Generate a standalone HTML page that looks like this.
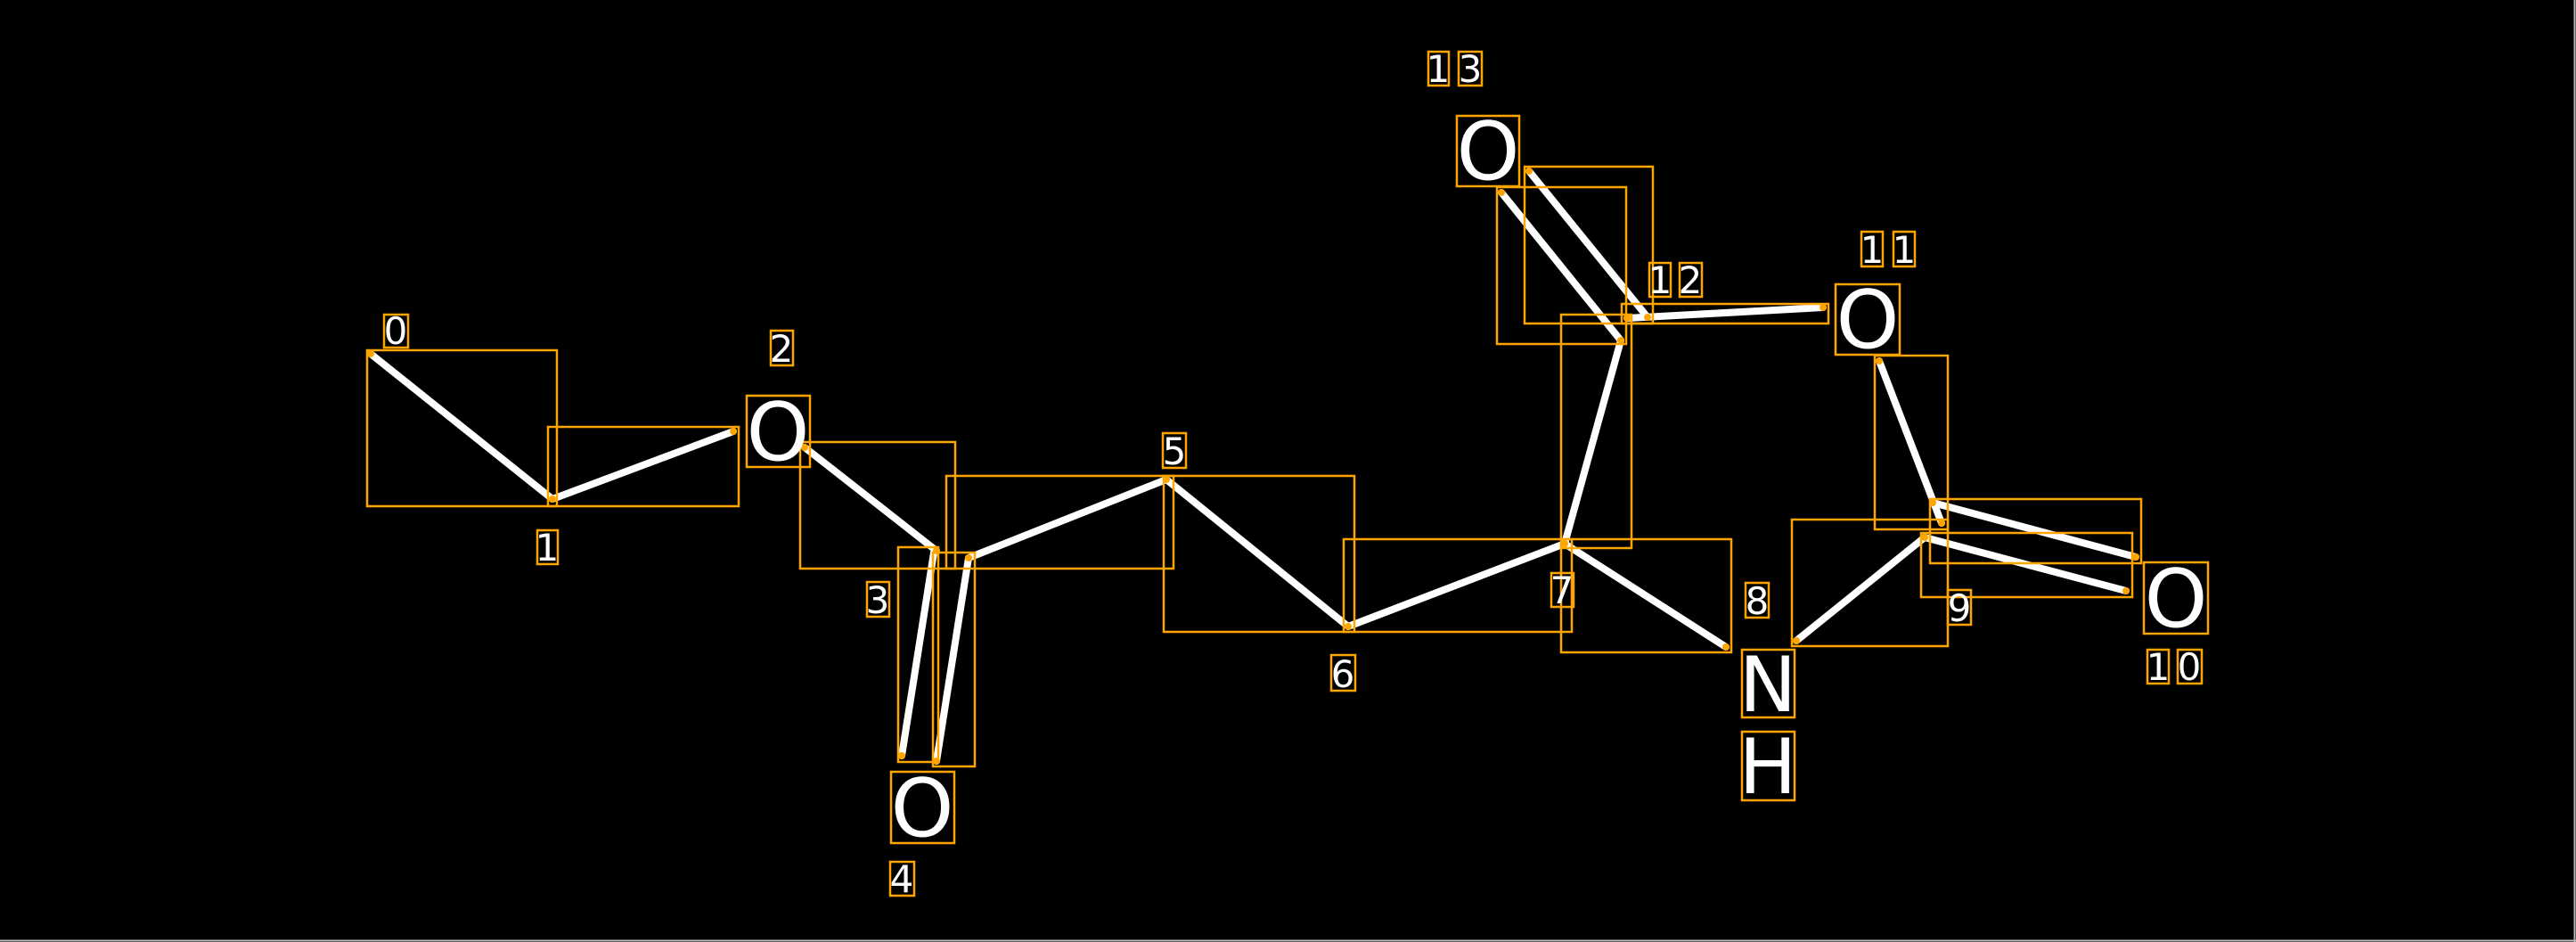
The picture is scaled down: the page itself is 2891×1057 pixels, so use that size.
<!DOCTYPE html>
<html><head><meta charset="utf-8"><style>
html,body{margin:0;padding:0;background:#000;}
svg{display:block;}
text{font-family:"DejaVu Sans","Liberation Sans",sans-serif;fill:#fff;}
</style></head><body>
<svg width="2891" height="1057" viewBox="0 0 2891 1057" xmlns="http://www.w3.org/2000/svg">
<rect x="0" y="0" width="2891" height="1057" fill="#000"/>
<line x1="2889.5" y1="0" x2="2889.5" y2="1057" stroke="#bbb" stroke-width="2"/>
<line x1="0" y1="1055.5" x2="2891" y2="1055.5" stroke="#bbb" stroke-width="2"/>
<g stroke="#fff" stroke-width="8" stroke-linecap="round">
<line x1="416" y1="397" x2="620" y2="560"/>
<line x1="620" y1="560" x2="823" y2="484"/>
<line x1="903" y1="502" x2="1051" y2="618"/>
<line x1="1048" y1="620" x2="1012" y2="848"/>
<line x1="1087" y1="626" x2="1051" y2="854"/>
<line x1="1087" y1="626" x2="1309" y2="538"/>
<line x1="1309" y1="538" x2="1513" y2="703"/>
<line x1="1513" y1="703" x2="1756" y2="610"/>
<line x1="1756" y1="610" x2="1937" y2="726"/>
<line x1="1756" y1="610" x2="1819" y2="382"/>
<line x1="1819" y1="382" x2="1685" y2="216"/>
<line x1="1849" y1="356" x2="1716" y2="192"/>
<line x1="1826" y1="357" x2="2046" y2="345"/>
<line x1="2109" y1="405" x2="2179" y2="587"/>
<line x1="2169" y1="564" x2="2397" y2="625"/>
<line x1="2160" y1="603" x2="2386" y2="663"/>
<line x1="2016" y1="719" x2="2160" y2="603"/>
</g>
<g fill="none" stroke="#ffa500" stroke-width="2.5">
<rect x="412" y="393" width="213" height="175"/>
<rect x="615" y="479" width="214" height="89"/>
<rect x="898" y="496" width="174" height="142"/>
<rect x="1008" y="614" width="45" height="241"/>
<rect x="1047" y="620" width="47" height="240"/>
<rect x="1062" y="534" width="255" height="104"/>
<rect x="1306" y="534" width="214" height="175"/>
<rect x="1508" y="605" width="256" height="104"/>
<rect x="1752" y="605" width="191" height="127"/>
<rect x="1752" y="353" width="79" height="262"/>
<rect x="1680" y="210" width="145" height="176"/>
<rect x="1711" y="187" width="144" height="176"/>
<rect x="1820" y="341" width="232" height="22"/>
<rect x="2104" y="399" width="82" height="195"/>
<rect x="2166" y="560" width="237" height="72"/>
<rect x="2156" y="598" width="237" height="72"/>
<rect x="2011" y="583" width="175" height="142"/>
<rect x="838" y="444" width="71" height="80"/>
<rect x="1000" y="866" width="71" height="80"/>
<rect x="1635" y="130" width="70" height="79"/>
<rect x="2060" y="319" width="72" height="79"/>
<rect x="2406" y="631" width="72" height="80"/>
<rect x="1955" y="729" width="59" height="76"/>
<rect x="1955" y="821" width="59" height="77"/>
<rect x="431" y="353" width="27" height="37"/>
<rect x="603" y="595" width="23" height="38"/>
<rect x="865" y="371" width="25" height="39"/>
<rect x="973" y="653" width="25" height="39"/>
<rect x="999" y="967" width="27" height="38"/>
<rect x="1305" y="486" width="26" height="39"/>
<rect x="1494" y="735" width="27" height="40"/>
<rect x="1741" y="643" width="25" height="38"/>
<rect x="1959" y="654" width="26" height="39"/>
<rect x="2186" y="662" width="26" height="39"/>
<rect x="1603" y="58" width="23" height="38"/>
<rect x="1637" y="58" width="26" height="38"/>
<rect x="1851" y="295" width="24" height="38"/>
<rect x="1885" y="295" width="25" height="38"/>
<rect x="2089" y="260" width="24" height="39"/>
<rect x="2125" y="260" width="24" height="39"/>
<rect x="2410" y="729" width="24" height="38"/>
<rect x="2444" y="729" width="27" height="38"/>
</g>
<g fill="#ffa500">
<circle cx="416" cy="397" r="4"/><circle cx="620" cy="560" r="4"/><circle cx="823" cy="484" r="4"/>
<circle cx="903" cy="502" r="4"/><circle cx="1051" cy="618" r="4"/><circle cx="1012" cy="848" r="4"/>
<circle cx="1087" cy="626" r="4"/><circle cx="1051" cy="854" r="4"/><circle cx="1309" cy="538" r="4"/>
<circle cx="1513" cy="703" r="4"/><circle cx="1756" cy="610" r="4"/><circle cx="1937" cy="726" r="4"/>
<circle cx="1819" cy="382" r="4"/><circle cx="1685" cy="216" r="4"/><circle cx="1849" cy="356" r="4"/>
<circle cx="1716" cy="192" r="4"/><circle cx="1826" cy="357" r="4"/><circle cx="2046" cy="345" r="4"/>
<circle cx="2109" cy="405" r="4"/><circle cx="2179" cy="587" r="4"/><circle cx="2169" cy="564" r="4"/>
<circle cx="2397" cy="625" r="4"/><circle cx="2160" cy="603" r="4"/><circle cx="2386" cy="663" r="4"/>
<circle cx="2016" cy="719" r="4"/>
</g>
<g font-size="90" text-anchor="middle">
<text x="873" y="516">O</text>
<text x="1035" y="938">O</text>
<text x="1670" y="201">O</text>
<text x="2096" y="390">O</text>
<text x="2442" y="703">O</text>
<text x="1984" y="798" font-size="86">N</text>
<text x="1984" y="890" font-size="86">H</text>
</g>
<g font-size="42" text-anchor="middle">
<text x="444" y="386">0</text>
<text x="614" y="629">1</text>
<text x="877" y="406">2</text>
<text x="985" y="688">3</text>
<text x="1012" y="1001">4</text>
<text x="1318" y="521">5</text>
<text x="1507" y="771">6</text>
<text x="1753" y="677">7</text>
<text x="1972" y="689">8</text>
<text x="2199" y="697">9</text>
<text x="1614" y="92">1</text>
<text x="1650" y="92">3</text>
<text x="1863" y="329">1</text>
<text x="1897" y="329">2</text>
<text x="2101" y="295">1</text>
<text x="2137" y="295">1</text>
<text x="2422" y="763">1</text>
<text x="2457" y="763">0</text>
</g>
</svg>
</body></html>
